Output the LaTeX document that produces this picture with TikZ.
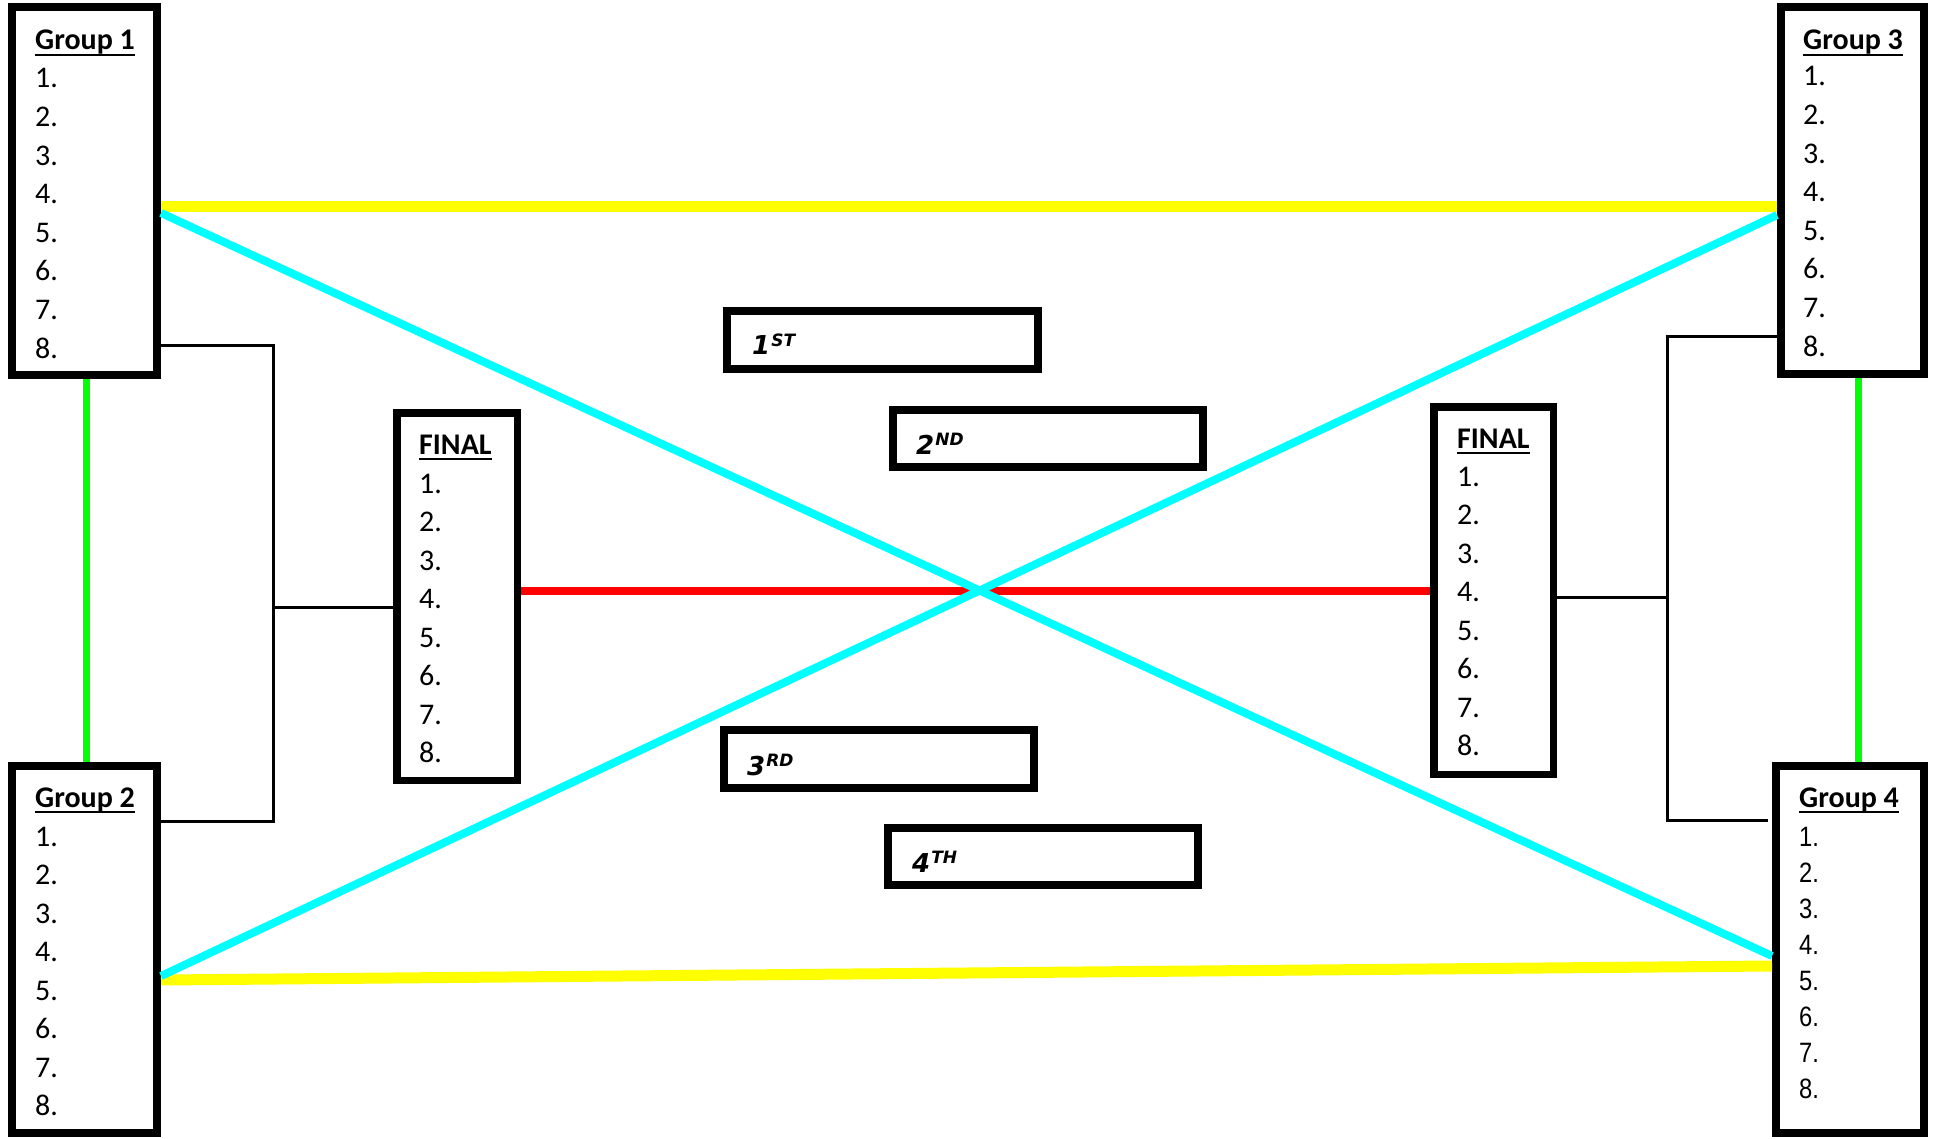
\documentclass[tikz,border=0pt]{standalone}
\usepackage{fontspec}
\setmainfont{Carlito}
\newfontfamily\narrowfont[FakeStretch=0.85]{Liberation Sans}
\newfontfamily\rankfont{DejaVu Sans}
\definecolor{yel}{RGB}{255,255,0}
\definecolor{cyn}{RGB}{0,255,255}
\definecolor{grn}{RGB}{0,255,0}
\definecolor{rd}{RGB}{255,0,0}
\newcommand\mylist[7]{% name, x, title baseline, first item baseline, spacing, title, item font
  \node[txt] (#1-t) at (#2,#3) {\bfseries #6};
  \draw[line width=2.5pt] ([yshift=-5pt]#1-t.base west) -- ([yshift=-5pt]#1-t.base east);
  \foreach \i in {1,...,8}{
    \node[txt] (#1-\i) at (#2,{#4+(\i-1)*#5}) {#7\i.};
  }
}
\newcommand\myranklabel[2]{{\rankfont\bfseries\itshape\fontsize{26}{32}\selectfont #1\kern1pt\raisebox{8.5pt}{\fontsize{17}{20}\selectfont #2}}}
\begin{document}
\begin{tikzpicture}[x=1pt,y=-1pt,
  groupbox/.style={draw=black, line width=8pt, fill=white, inner sep=0pt},
  finalbox/.style={draw=black, line width=7.5pt, fill=white, inner sep=0pt},
  rankbox/.style={draw=black, line width=8pt, fill=white, inner sep=0pt},
  txt/.style={anchor=base west, inner sep=0pt, font=\fontsize{30}{36}\selectfont},
  ranktxt/.style={anchor=base west, inner sep=0pt},
  yline/.style={draw=yel, line width=11pt},
  cline/.style={draw=cyn, line width=8pt},
  gline/.style={draw=grn, line width=7pt},
  rline/.style={draw=rd, line width=7.5pt},
  bline/.style={draw=black, line width=3pt}]
\useasboundingbox (0,0) rectangle (1935,1139);
% junction points of the black brackets
\coordinate (lj) at (273,607);
\coordinate (rj) at (1667,597);
% boxes (outer extents)
\node[groupbox, minimum width=145pt, minimum height=368pt] (g1) at (84.5,191) {};
\node[groupbox, minimum width=145pt, minimum height=367pt] (g2) at (84.5,949.5) {};
\node[groupbox, minimum width=143pt, minimum height=367pt] (g3) at (1852.5,190.5) {};
\node[groupbox, minimum width=148pt, minimum height=367pt] (g4) at (1850,949.5) {};
\node[finalbox, minimum width=120.5pt, minimum height=367.5pt] (f1) at (457,596.5) {};
\node[finalbox, minimum width=119.5pt, minimum height=367.5pt] (f2) at (1493.5,590.5) {};
\node[rankbox, minimum width=311pt, minimum height=58pt] (r1) at (882.5,340) {};
\node[rankbox, minimum width=310pt, minimum height=57pt] (r2) at (1048,438.5) {};
\node[rankbox, minimum width=310pt, minimum height=58pt] (r3) at (879,759) {};
\node[rankbox, minimum width=310pt, minimum height=57pt] (r4) at (1043,856.5) {};
% connectors
\draw[rline] (f1.east |- 0,591) -- (f2.west |- 0,591);
\draw[yline] (g1.east |- 0,207) -- (g3.west |- 0,207);
\draw[yline] (g2.east |- 0,980) -- (g4.west |- 0,966);
\draw[cline] (g1.east |- 0,213) -- (g4.west |- 0,956);
\draw[cline] (g2.east |- 0,976) -- (g3.west |- 0,215);
\draw[gline] ([xshift=1.5pt]g1.south) -- ([xshift=1.5pt]g2.north);
\draw[gline] ([xshift=5.5pt]g3.south) -- ([xshift=5.5pt]g3.south |- g4.north);
\draw[bline] (g1.east |- 0,346) -| (lj) |- (g2.east |- 0,821);
\draw[bline] (lj) -- (f1.west |- lj);
\draw[bline] (g3.west |- 0,337) -| (rj) |- ([xshift=-4pt]g4.west |- 0,820);
\draw[bline] (rj) -- (f2.east |- rj);
% texts
\mylist{g1}{35}{50}{88}{38.6}{Group 1}{}
\mylist{g2}{35}{807}{846}{38.5}{Group 2}{}
\mylist{g3}{1803}{50}{86}{38.6}{Group 3}{}
\mylist{g4}{1799}{807}{846}{36.1}{Group 4}{\narrowfont\fontsize{28}{34}\selectfont}
\mylist{f1}{419}{454}{493}{38.5}{FINAL}{}
\mylist{f2}{1457}{448}{486}{38.5}{FINAL}{}
\node[ranktxt] (r1-t) at (752,355) {\myranklabel{1}{ST}};
\node[ranktxt] (r2-t) at (916,454) {\myranklabel{2}{ND}};
\node[ranktxt] (r3-t) at (747,775) {\myranklabel{3}{RD}};
\node[ranktxt] (r4-t) at (912,872) {\myranklabel{4}{TH}};
\end{tikzpicture}
\end{document}
